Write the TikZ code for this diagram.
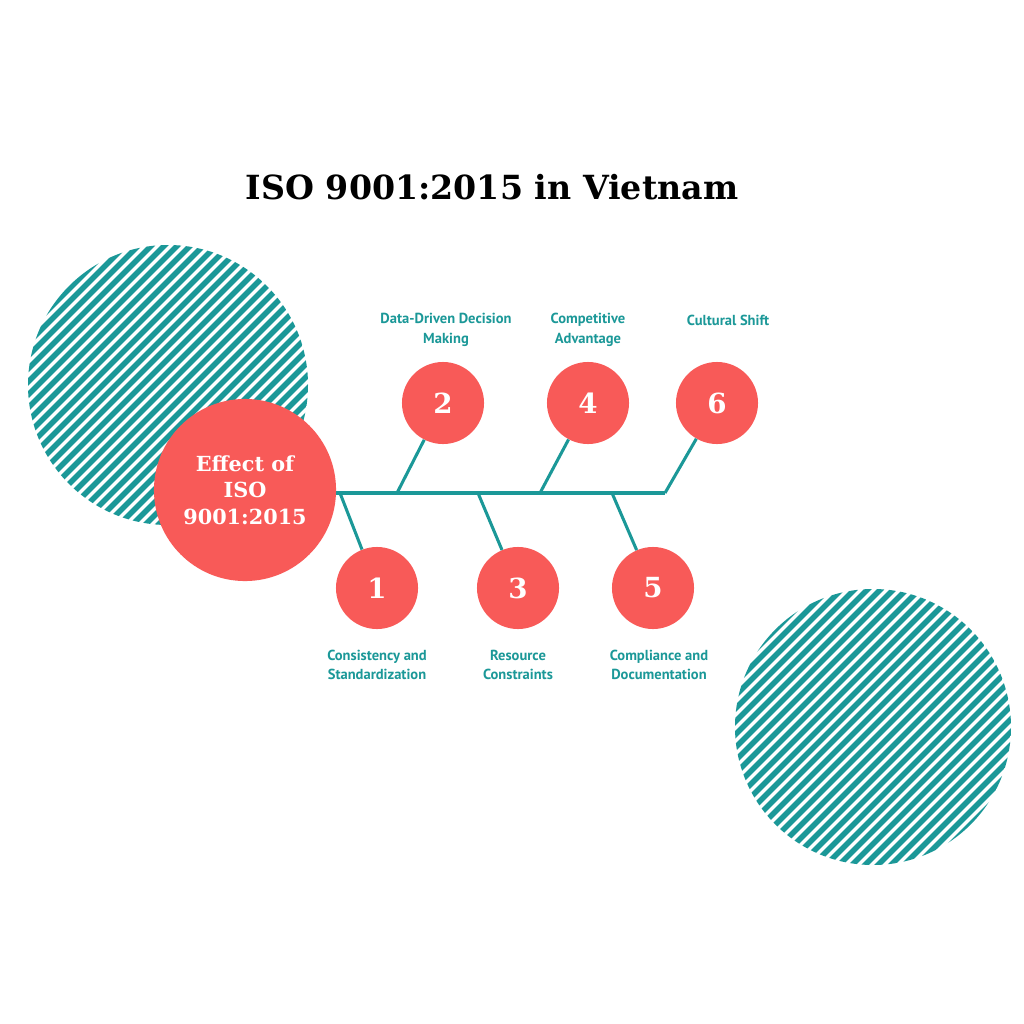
\documentclass[tikz,border=0pt]{standalone}
\usepackage{fontspec}
\setmainfont{DejaVu Serif}
\newfontfamily\lab{PT Sans}
\definecolor{teal1}{HTML}{1B9898}
\definecolor{red1}{HTML}{F85A58}
\begin{document}
\begin{tikzpicture}[x=0.01in,y=-0.01in,
  num/.style={circle,fill=red1,minimum size=0.82in,inner sep=0,text=white,font=\bfseries\fontsize{20}{20}\selectfont},
  lbl/.style={text=teal1,font=\lab\bfseries\fontsize{10.5}{14}\selectfont,align=center},
  br/.style={teal1,line width=2.2pt}]
\useasboundingbox (0,0) rectangle (1024,1024);
\fill[white] (0,0) rectangle (1024,1024);
\foreach \cx/\cy/\r in {168/385/140, 873/727/138}{
  \begin{scope}
  \clip (\cx,\cy) circle (\r);
  \foreach \k in {-25,...,25}{
    \draw[teal1,line width=4pt] (\cx+\k*13-300,\cy+300) -- (\cx+\k*13+300,\cy-300);
  }
  \end{scope}
}
\node[font=\bfseries\fontsize{24}{24}\selectfont] (title) at (492,187) {ISO 9001:2015 in Vietnam};
\coordinate (s0) at (335,493); \coordinate (s1) at (665,493);
\draw[br] (s0) -- (s1);
\node[circle,fill=red1,minimum size=1.82in,inner sep=0,text=white,align=center,font=\bfseries\fontsize{15}{19}\selectfont] (main) at (245,490) {Effect of\\ISO\\9001:2015};
\node[num] (n2) at (443,403) {2};
\node[num] (n4) at (588,403) {4};
\node[num] (n6) at (717,403) {6};
\node[num] (n1) at (377,588) {1};
\node[num] (n3) at (518,588) {3};
\node[num] (n5) at (653,588) {5};
\coordinate (b2) at (397,493); \coordinate (b4) at (540,493); \coordinate (b6) at (665,493);
\coordinate (b1) at (340,493); \coordinate (b3) at (478,493); \coordinate (b5) at (612,493);
\draw[br] (b2) -- (n2); \draw[br] (b4) -- (n4); \draw[br] (b6) -- (n6);
\draw[br] (b1) -- (n1); \draw[br] (b3) -- (n3); \draw[br] (b5) -- (n5);
\node[lbl] (l2) at (446,330) {Data-Driven Decision\\Making};
\node[lbl] (l4) at (588,330) {Competitive\\Advantage};
\node[lbl] (l6) at (728,320) {Cultural Shift};
\node[lbl] (l1) at (377,665) {Consistency and\\Standardization};
\node[lbl] (l3) at (518,665) {Resource\\Constraints};
\node[lbl] (l5) at (659,665) {Compliance and\\Documentation};
\end{tikzpicture}
\end{document}
